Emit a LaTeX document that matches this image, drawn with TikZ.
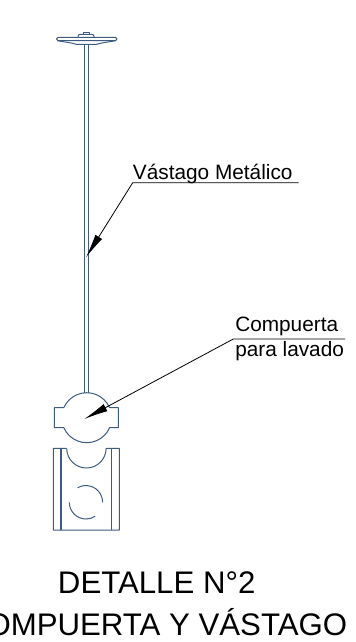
\documentclass[tikz,border=0pt]{standalone}
\usepackage{fontspec}
\setmainfont{Liberation Sans}
\usetikzlibrary{arrows.meta}
\definecolor{pieza}{RGB}{62,92,128}
\tikzset{
  pieza/.style={draw=pieza,line width=0.75pt,line join=round},
  leader/.style={draw=black,line width=0.6pt,-{Latex[length=18pt,width=6pt]}},
  rotulo/.style={anchor=base west,inner sep=0pt,font=\fontsize{15.6pt}{18pt}\selectfont},
  titulo/.style={anchor=base,inner sep=0pt,font=\fontsize{23.4pt}{28pt}\selectfont}
}
\begin{document}
\begin{tikzpicture}[x=0.75pt,y=0.75pt,yscale=-1,xscale=1]
\useasboundingbox (0,0) rectangle (355,642);
\draw [pieza] (84.3,44.5) -- (84.3,393.2) ;
\draw [pieza] (88.3,44.5) -- (88.3,393.2) ;
\draw [pieza] (58,37.3) -- (115.5,37.3) .. controls (117.5,37.3) and (117.5,40.7) .. (115.5,40.7) -- (58,40.7) .. controls (56,40.7) and (56,37.3) .. (58,37.3) -- cycle ;
\draw [pieza] (78,37.3) -- (78,36.5) .. controls (78,35) and (79,34.3) .. (80.5,34.3) -- (91.5,34.3) .. controls (93,34.3) and (94,35) .. (94,36.5) -- (94,37.3) ;
\draw [pieza] (83.3,34.3) -- (83.3,32.3) -- (89.3,32.3) -- (89.3,34.3) ;
\draw [pieza] (57.5,40.7) .. controls (64,42) and (71,42.5) .. (77,44.5) -- (96,44.5) .. controls (102,42.5) and (109,42) .. (115.5,40.7) ;
\draw [pieza] (63.8,407.7) -- (54.3,407.7) -- (54.3,427.7) -- (63.8,427.7) arc [start angle=156.4,end angle=23.6,radius=25] -- (118.3,427.7) -- (118.3,407.7) -- (109.6,407.7) arc [start angle=-23.6,end angle=-156.4,radius=25] ;
\draw [pieza] (66.7,448.3) -- (53.3,448.3) -- (53.3,530) -- (119.3,530) -- (119.3,448.3) -- (106.1,448.3) arc [start angle=0,end angle=180,radius=19.7] ;
\draw [pieza,line width=1pt] (61,448.3) -- (61,530) ;
\draw [pieza] (111.7,448.3) -- (111.7,530) ;
\draw [pieza] (77.6,487.8) arc [start angle=-120,end angle=0,radius=16.7] ;
\draw [pieza] (69.3,502.3) arc [start angle=180,end angle=57,radius=16.7] ;
\coordinate (puntaVastago) at (86,257.3);
\coordinate (codoVastago) at (132.7,182.7);
\coordinate (finVastago) at (298.7,182.7);
\coordinate (puntaCompuerta) at (84.3,419);
\coordinate (codoCompuerta) at (233.3,339);
\coordinate (finCompuerta) at (345,339);
\draw [leader] (finVastago) -- (codoVastago) -- (puntaVastago) ;
\draw [leader] (finCompuerta) -- (codoCompuerta) -- (puntaCompuerta) ;
\node [rotulo] (vastago) at (132.7,179.3) {Vástago Metálico};
\node [rotulo] (compuerta) at (235,331.7) {Compuerta};
\node [rotulo] (lavado) at (235,356.7) {para lavado};
\node [titulo] (detalle) at (156.7,593) {DETALLE N°2};
\node [titulo] (nombre) at (155.6,635) {COMPUERTA Y VÁSTAGO};
\end{tikzpicture}
\end{document}
